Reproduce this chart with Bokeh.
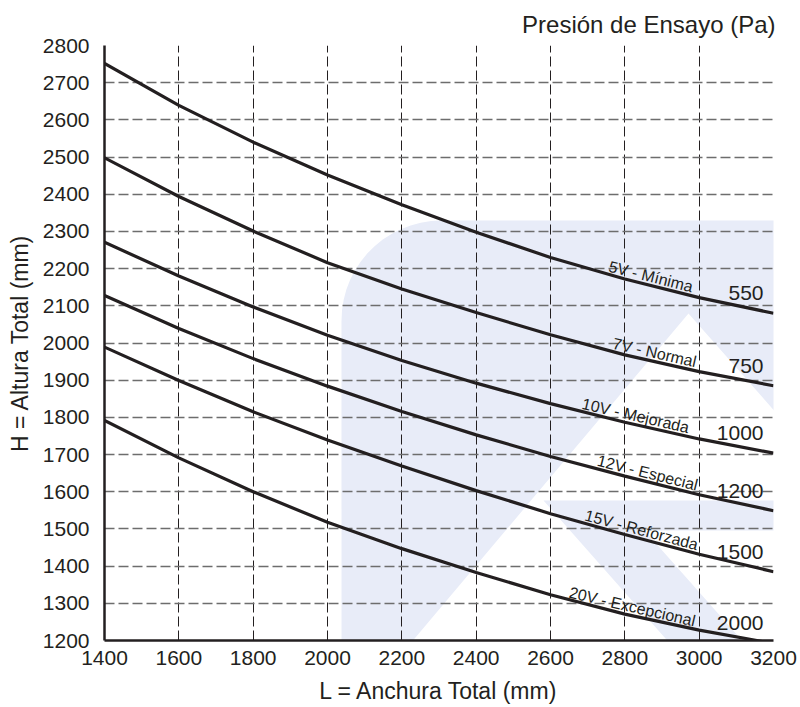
import numpy as np
from bokeh.plotting import figure
from bokeh.models import Range1d, PolyAnnotation, ColumnDataSource
from bokeh.core.properties import value
from bokeh.embed import file_html
from bokeh.resources import INLINE

# ---------------- data ----------------
x_mm = [1400, 1600, 1800, 2000, 2200, 2400, 2600, 2800, 3000, 3200]
h_550 = [2752, 2639, 2540, 2452, 2372, 2298, 2230, 2172, 2122, 2080]
h_750 = [2498, 2394, 2301, 2216, 2145, 2082, 2022, 1968, 1923, 1885]
h_1000 = [2271, 2180, 2097, 2021, 1953, 1892, 1837, 1787, 1742, 1704]
h_1200 = [2128, 2039, 1958, 1884, 1816, 1753, 1695, 1642, 1592, 1549]
h_1500 = [1989, 1899, 1815, 1739, 1669, 1603, 1541, 1485, 1432, 1385]
h_2000 = [1792, 1691, 1600, 1518, 1447, 1383, 1323, 1271, 1228, 1192]
series = [h_550, h_750, h_1000, h_1200, h_1500, h_2000]
pressures = ["550", "750", "1000", "1200", "1500", "2000"]
classes = ["5V - Mínima", "7V - Normal", "10V - Mejorada", "12V - Especial",
           "15V - Reforzada", "20V - Excepcional"]
x_ticks = list(range(1400, 3201, 200))
y_ticks = list(range(1200, 2801, 100))

# ---------------- layout ----------------
INK = "#231f20"
FONT = "Liberation Sans"
W, H = 800, 707
ML, MR, MT, MB = 104, 27, 45, 67
X0, X1, Y0, Y1 = 1400, 3200, 1200, 2800
kx = (W - ML - MR) / (X1 - X0)
ky = (H - MT - MB) / (Y1 - Y0)

p = figure(width=W, height=H, output_backend="svg", toolbar_location=None,
           x_range=Range1d(X0, X1), y_range=Range1d(Y0, Y1),
           min_border_left=ML, min_border_right=MR, min_border_top=MT,
           min_border_bottom=MB, background_fill_color="white",
           border_fill_color="white")
p.outline_line_color = None

# ---------- watermark (background decoration, in canvas pixels) ----------
arc = [(441 + 100 * np.cos(t), 320 - 100 * np.sin(t))
       for t in np.linspace(np.pi, np.pi / 2, 16)]
bowl = [(341, 707), (341, 320)] + arc + [(800, 220), (800, 440), (688, 313), (356, 707)]
leg = [(543, 500), (800, 500), (800, 530), (644, 530), (801, 707), (726, 707)]
for shape in (bowl, leg):
    p.add_layout(PolyAnnotation(xs=[float(a) for a, b in shape],
                                ys=[float(b) for a, b in shape],
                                xs_units="canvas", ys_units="canvas",
                                fill_color="#e8ecf8", fill_alpha=1.0,
                                line_color=None, level="image"))

# ---------------- grid ----------------
p.xgrid.ticker = x_ticks
p.ygrid.ticker = y_ticks
p.xgrid.grid_line_color = INK
p.xgrid.grid_line_width = 1
p.xgrid.grid_line_dash = "10 4"
p.ygrid.grid_line_color = "#6d6d6d"
p.ygrid.grid_line_width = 1.4
p.ygrid.grid_line_dash = "10 4"

# ---------------- axes ----------------
p.xaxis.ticker = x_ticks
p.yaxis.ticker = y_ticks
for ax in (p.xaxis[0], p.yaxis[0]):
    ax.axis_line_color = INK
    ax.axis_line_width = 2.5
    ax.major_tick_line_color = None
    ax.minor_tick_line_color = None
    ax.major_tick_out = 0
    ax.major_tick_in = 0
    ax.major_label_text_font = FONT
    ax.major_label_text_font_size = "21px"
    ax.major_label_text_color = INK
    ax.axis_label_text_font = FONT
    ax.axis_label_text_font_size = "23px"
    ax.axis_label_text_font_style = "normal"
    ax.axis_label_text_color = INK
p.xaxis.axis_label = "L = Anchura Total (mm)"
p.yaxis.axis_label = "H = Altura Total (mm)"
p.yaxis.major_label_standoff = 15
p.xaxis.major_label_standoff = 10
p.yaxis.axis_label_standoff = 7
p.xaxis.axis_label_standoff = 10

p.title.text = "Presión de Ensayo (Pa)"
p.title.align = "right"
p.title.text_font = FONT
p.title.text_font_size = "24px"
p.title.text_font_style = "normal"
p.title.text_color = INK
p.title.standoff = 15
p.title.offset = -2

# ---------------- curves ----------------
for ys in series:
    p.line(x_mm, ys, line_color=INK, line_width=3.2)

# curve class labels, rotated along the curves
label_x = [2870, 2880, 2829, 2861, 2845, 2820]
lab_y, lab_a = [], []
for lx, ys in zip(label_x, series):
    lab_y.append(float(np.interp(lx, x_mm, ys)))
    slope = (np.interp(lx + 60, x_mm, ys) - np.interp(lx - 60, x_mm, ys)) / 120
    lab_a.append(float(np.arctan(slope * ky / kx)))
src = ColumnDataSource(dict(x=label_x, y=lab_y, a=lab_a, t=classes))
p.text(x="x", y="y", text="t", angle="a", source=src, y_offset=-9,
       text_align="center", text_baseline="middle",
       text_font=value(FONT), text_font_size="16px", text_color=INK)

# pressure labels at the right end of each curve
end_y = [ys[-1] for ys in series]
src2 = ColumnDataSource(dict(x=[x_mm[-1]] * len(series), y=end_y, t=pressures))
p.text(x="x", y="y", text="t", source=src2, x_offset=-10, y_offset=-20,
       text_align="right", text_baseline="middle",
       text_font=value(FONT), text_font_size="21px", text_color=INK)

open("out.html", "w").write(file_html(p, INLINE))
